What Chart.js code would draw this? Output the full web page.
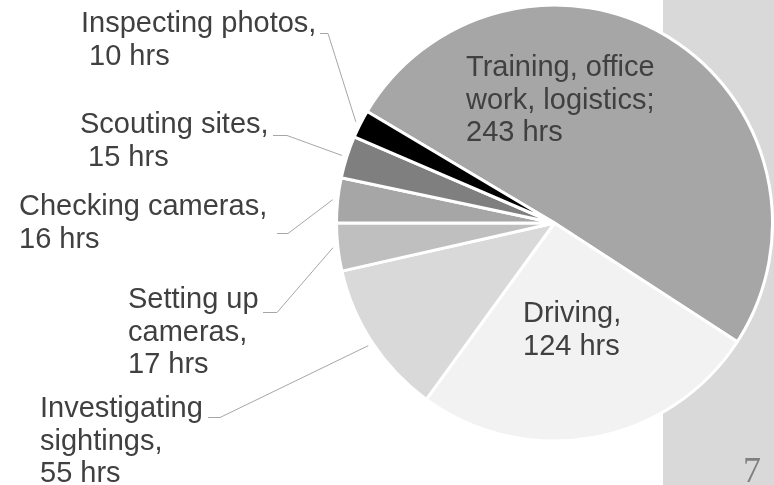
<!DOCTYPE html>
<html><head><meta charset="utf-8">
<script src="https://cdn.jsdelivr.net/npm/chart.js@4.4.1/dist/chart.umd.min.js"></script>
<style>html,body{margin:0;padding:0;background:#fff}#wrap{width:774px;height:485px;position:relative}</style>
</head><body><div id="wrap"><canvas id="c" width="774" height="485"></canvas></div>
<script>
// ---- data ----
const categories = ['Training, office work, logistics', 'Driving', 'Investigating sightings', 'Setting up cameras', 'Checking cameras', 'Scouting sites', 'Inspecting photos'];
const hours = [243, 124, 55, 17, 16, 15, 10];
const labelNameLines = [
  ['Training, office', 'work, logistics;'],
  ['Driving,'],
  ['Investigating', 'sightings,'],
  ['Setting up', 'cameras,'],
  ['Checking cameras,'],
  ['Scouting sites,'],
  ['Inspecting photos,']
];
const valuePrefix = ['', '', '', '', '', ' ', ' '];
const sliceColors = ['#a6a6a6', '#f2f2f2', '#d9d9d9', '#bfbfbf', '#a6a6a6', '#7f7f7f', '#000000'];
const pageNumber = '7';

// ---- layout (label placement, not data) ----
const labelLayout = [
  {x: 466, y: 76},
  {x: 523, y: 322},
  {x: 40, y: 417, leader: {x0: 208, x1: 220, y: 417}},
  {x: 128, y: 308, leader: {x0: 263, x1: 277, y: 312}},
  {x: 19, y: 215, leader: {x0: 277, x1: 288, y: 233}},
  {x: 80, y: 133, leader: {x0: 273, x1: 287, y: 135}},
  {x: 81, y: 32, leader: {x0: 320, x1: 328, y: 33}}
];
const lineHeight = 32.7;

const panelPlugin = {
  id: 'panel',
  beforeDraw(chart) {
    const ctx = chart.ctx;
    ctx.save();
    ctx.fillStyle = '#d9d9d9';
    ctx.fillRect(663, 0, chart.width - 663, chart.height);
    ctx.fillStyle = '#7f7f7f';
    ctx.font = '36px "Liberation Serif", serif';
    ctx.textBaseline = 'alphabetic';
    ctx.fillText(pageNumber, 743, 482);
    ctx.restore();
  }
};

const labelPlugin = {
  id: 'sliceLabels',
  afterDatasetsDraw(chart) {
    const ctx = chart.ctx;
    const meta = chart.getDatasetMeta(0);
    ctx.save();
    meta.data.forEach((arc, i) => {
      const p = arc.getProps(['x', 'y', 'startAngle', 'endAngle', 'outerRadius'], true);
      const L = labelLayout[i];
      if (L.leader) {
        const mid = (p.startAngle + p.endAngle) / 2;
        const r = p.outerRadius + 5;
        const ex = p.x + Math.cos(mid) * r;
        const ey = p.y + Math.sin(mid) * r;
        ctx.strokeStyle = '#a6a6a6';
        ctx.lineWidth = 1;
        ctx.beginPath();
        ctx.moveTo(L.leader.x0, L.leader.y + 0.5);
        ctx.lineTo(L.leader.x1, L.leader.y + 0.5);
        ctx.lineTo(ex, ey);
        ctx.stroke();
      }
      const lines = labelNameLines[i].concat([valuePrefix[i] + hours[i] + ' hrs']);
      ctx.fillStyle = '#404040';
      ctx.font = '29px "Liberation Sans", Arial, sans-serif';
      ctx.textAlign = 'left';
      ctx.textBaseline = 'alphabetic';
      lines.forEach((t, k) => ctx.fillText(t, L.x, L.y + k * lineHeight));
    });
    ctx.restore();
  }
};

new Chart(document.getElementById('c'), {
  type: 'pie',
  data: {
    labels: categories,
    datasets: [{
      data: hours,
      backgroundColor: sliceColors,
      borderColor: '#ffffff',
      borderWidth: 3,
      hoverOffset: 0
    }]
  },
  options: {
    responsive: false,
    animation: false,
    rotation: -59.25,
    layout: {padding: {left: 335, right: 0, top: 0, bottom: 39}},
    plugins: {legend: {display: false}, tooltip: {enabled: false}}
  },
  plugins: [panelPlugin, labelPlugin]
});
</script>
</body></html>
